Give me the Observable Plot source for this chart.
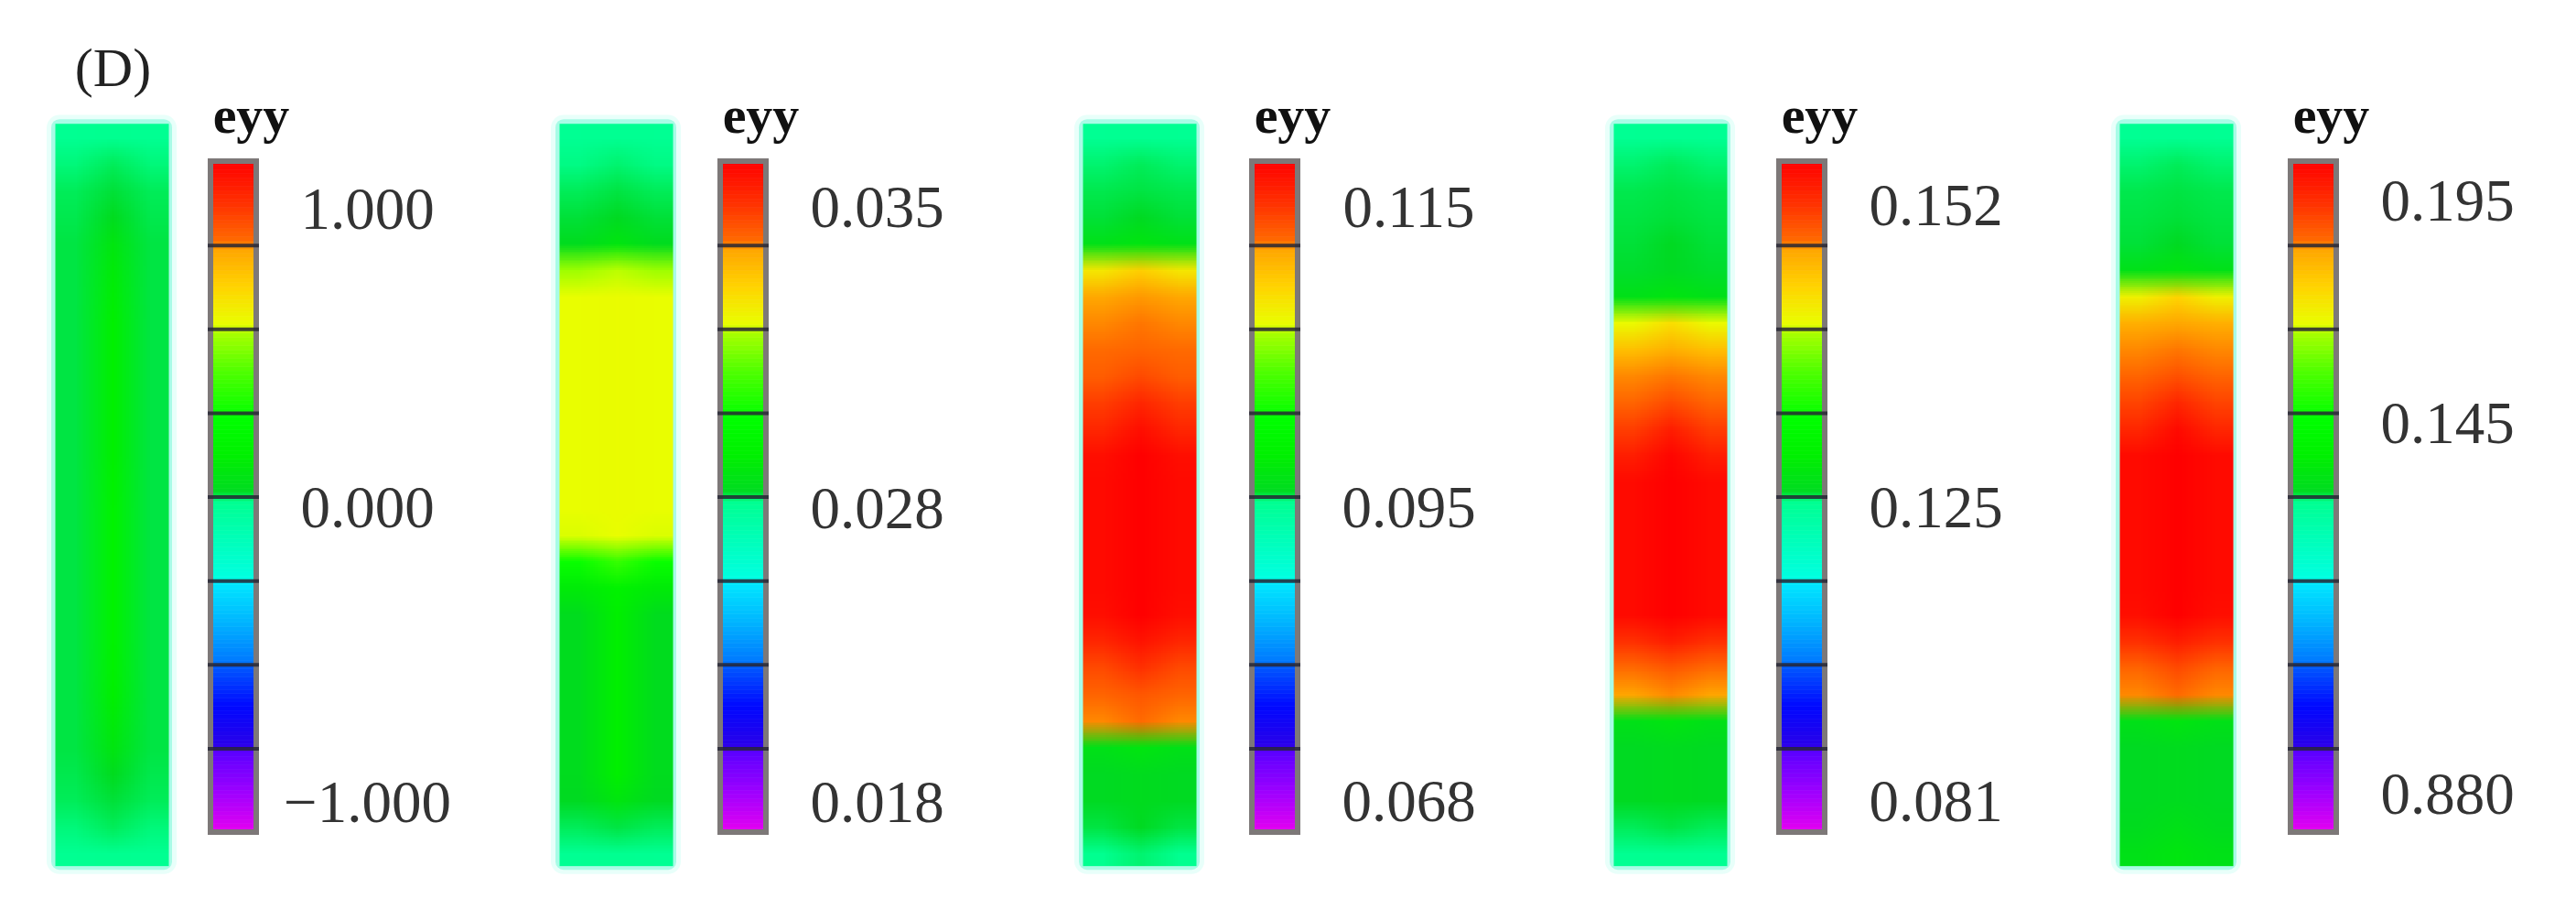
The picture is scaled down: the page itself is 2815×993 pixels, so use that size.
<!DOCTYPE html>
<html>
<head>
<meta charset="utf-8">
<script src="https://cdn.jsdelivr.net/npm/d3@7"></script>
<script src="https://cdn.jsdelivr.net/npm/@observablehq/plot@0.6"></script>
<style>
html, body { margin: 0; padding: 0; background: #fff; }
#chart svg { display: block; }
</style>
</head>
<body>
<div id="chart"></div>
<script>
// ---------- text ----------
const panelTitle = "(D)";
const legendTitle = "eyy";

// colorbar tick labels, top / middle / bottom, one list per panel
const labelsA = ["1.000", "0.000", "\u22121.000"];
const labelsB = ["0.035", "0.028", "0.018"];
const labelsC = ["0.115", "0.095", "0.068"];
const labelsD = ["0.152", "0.125", "0.081"];
const labelsE = ["0.195", "0.145", "0.880"];

// ---------- strain field, read as colour-bar level (0 = bottom, 8 = top), 28 rows top -> bottom ----------
const centerA = [3.95, 4.0, 4.03, 4.1, 4.3, 4.4, 4.45, 4.5, 4.5, 4.5, 4.5, 4.5, 4.5, 4.55, 4.6, 4.6, 4.6, 4.6, 4.6, 4.6, 4.55, 4.5, 4.4, 4.3, 4.1, 4.03, 4.0, 3.95];
const edgeA   = [3.93, 3.97, 4.0, 4.01, 4.02, 4.02, 4.02, 4.02, 4.02, 4.02, 4.02, 4.02, 4.02, 4.02, 4.02, 4.02, 4.02, 4.02, 4.02, 4.02, 4.02, 4.02, 4.02, 4.02, 4.01, 4.0, 3.97, 3.93];

const centerB = [3.93, 3.98, 4.02, 4.05, 4.3, 5.98, 6.08, 6.08, 6.08, 6.08, 6.08, 6.08, 6.08, 6.08, 6.08, 6.06, 5.3, 4.6, 4.5, 4.5, 4.5, 4.5, 4.5, 4.5, 4.5, 4.3, 4.02, 3.94];
const edgeB   = [3.92, 3.96, 4.0, 4.03, 4.1, 5.9, 6.06, 6.06, 6.06, 6.06, 6.06, 6.06, 6.06, 6.06, 6.06, 6.03, 5.0, 4.4, 4.1, 4.1, 4.1, 4.1, 4.1, 4.1, 4.1, 4.05, 4.0, 3.92];

const centerC = [3.93, 4.0, 4.02, 4.05, 4.3, 6.55, 6.97, 7.03, 7.1, 7.3, 7.6, 7.85, 8.0, 8.0, 8.0, 8.0, 8.0, 8.0, 8.0, 7.8, 7.5, 7.2, 7.05, 4.3, 4.1, 4.1, 4.05, 3.98];
const edgeC   = [3.92, 3.98, 4.01, 4.03, 4.2, 6.3, 6.93, 7.0, 7.05, 7.15, 7.4, 7.6, 7.85, 7.9, 7.9, 7.9, 7.9, 7.9, 7.85, 7.6, 7.3, 7.1, 7.0, 4.2, 4.05, 4.05, 4.02, 3.95];

const centerD = [3.93, 4.0, 4.02, 4.03, 4.05, 4.05, 4.3, 6.4, 6.85, 7.03, 7.3, 7.7, 7.95, 8.0, 8.0, 8.0, 8.0, 8.0, 8.0, 7.7, 7.2, 7.0, 4.3, 4.1, 4.1, 4.1, 4.02, 3.95];
const edgeD   = [3.92, 3.98, 4.01, 4.02, 4.03, 4.04, 4.2, 6.1, 6.7, 7.0, 7.1, 7.4, 7.7, 7.9, 7.9, 7.9, 7.9, 7.9, 7.9, 7.5, 7.05, 6.95, 4.2, 4.05, 4.05, 4.05, 4.0, 3.93];

const centerE = [3.93, 4.0, 4.02, 4.03, 4.05, 4.3, 6.5, 6.93, 7.03, 7.25, 7.6, 7.9, 8.0, 8.0, 8.0, 8.0, 8.0, 8.0, 8.0, 7.7, 7.3, 7.05, 4.3, 4.1, 4.1, 4.1, 4.2, 4.3];
const edgeE   = [3.92, 3.98, 4.01, 4.02, 4.03, 4.2, 6.2, 6.85, 7.0, 7.1, 7.35, 7.6, 7.9, 7.9, 7.9, 7.9, 7.9, 7.9, 7.85, 7.5, 7.1, 7.0, 4.2, 4.05, 4.05, 4.05, 4.1, 4.2];

// ---------- colour map of the legend (level -> colour) ----------
const levelStops = [0, 0.5, 0.97, 1.03, 1.5, 1.97, 2.03, 2.5, 2.97, 3.03, 3.5, 3.95, 4.05, 4.5, 4.95, 5.05, 5.5, 5.95, 6.05, 6.5, 6.95, 7.05, 7.5, 8];
const stopColors = ["#e600f0", "#9a00ff", "#5a00ff", "#2a00e8", "#0008ff", "#0058ff", "#0078ff", "#00b4ff", "#00e8ff", "#00ffe0", "#00ffb8", "#00ff90", "#00da22", "#00f000", "#00ff00", "#10ff00", "#50ff00", "#a8ff00", "#e8ff00", "#ffd400", "#ffa500", "#ff6a00", "#ff3000", "#ff0000"];

// ---------- layout (not data) ----------
const layout = {
  specimenLeft: [60, 611, 1183, 1763, 2316],
  specimenWidth: 124,
  specimenTop: 8.45,
  specimenBottom: -0.40,
  colorbarLeft: [227, 784, 1365, 1941, 2500],
  colorbarWidth: 56,
  labelOffset: 174,
  legendTitleOffset: 47,
  tickLevels: [[7.43, 3.87, 0.35], [7.45, 3.86, 0.35], [7.45, 3.87, 0.36], [7.47, 3.87, 0.36], [7.52, 4.87, 0.45]],
  titleX: 123,
  titleLevel: 9.11,
  legendTitleLevel: 8.34
};

const centers = [centerA, centerB, centerC, centerD, centerE];
const edges = [edgeA, edgeB, edgeC, edgeD, edgeE];
const labels = [labelsA, labelsB, labelsC, labelsD, labelsE];
const panels = [0, 1, 2, 3, 4];

const L = layout;
const fontFamily = "'Liberation Serif', 'Times New Roman', Times, serif";

// raster grids: columns edge | center | edge
const grids = panels.map(p => centers[p].flatMap((c, i) => [edges[p][i], c, edges[p][i]]));

// colorbar ramp slices (legend of the colour scale)
const step = 0.05;
const slices = [];
for (const p of panels) {
  for (let k = 0; k < 8 / step; k++) {
    slices.push({p, y1: k * step, y2: (k + 1) * step, level: (k + 0.5) * step});
  }
}
const separators = panels.flatMap(p => [1, 2, 3, 4, 5, 6, 7].map(level => ({p, level})));
const tickData = panels.flatMap(p => labels[p].map((label, j) => ({p, label, level: L.tickLevels[p][j]})));

const rasterMarks = panels.map(p => Plot.raster(grids[p], {
  width: 3,
  height: centers[p].length,
  x1: L.specimenLeft[p],
  x2: L.specimenLeft[p] + L.specimenWidth,
  y1: L.specimenTop,
  y2: L.specimenBottom,
  fill: d => d
}));

const chart = Plot.plot({
  width: 2815,
  height: 993,
  margin: 0,
  style: {background: "white", fontFamily},
  x: {domain: [0, 2815], range: [0, 2815], axis: null},
  y: {domain: [0, 8], range: [909, 176], axis: null},
  color: {type: "linear", domain: levelStops, range: stopColors, interpolate: "rgb"},
  marks: [
    // soft cyan halo around each specimen
    Plot.rect(panels, {
      x1: p => L.specimenLeft[p] - 9, x2: p => L.specimenLeft[p] + L.specimenWidth + 9,
      y1: () => L.specimenTop + 0.1, y2: () => L.specimenBottom - 0.1,
      fill: "#e8fffa", rx: 14
    }),
    Plot.rect(panels, {
      x1: p => L.specimenLeft[p] - 4, x2: p => L.specimenLeft[p] + L.specimenWidth + 4,
      y1: () => L.specimenTop + 0.05, y2: () => L.specimenBottom - 0.05,
      fill: "#a8fbe6", rx: 9
    }),
    ...rasterMarks,
    // colour bar ramp
    Plot.rect(slices, {
      x1: d => L.colorbarLeft[d.p] + 3, x2: d => L.colorbarLeft[d.p] + L.colorbarWidth - 3,
      y1: "y1", y2: "y2", fill: "level", stroke: "level", strokeWidth: 0.6
    }),
    // colour bar frame
    Plot.rect(panels, {
      x1: p => L.colorbarLeft[p] + 3, x2: p => L.colorbarLeft[p] + L.colorbarWidth - 3,
      y1: () => 0, y2: () => 8,
      fill: "none", stroke: "#7d7878", strokeWidth: 6
    }),
    // segment separators
    Plot.ruleY(separators, {
      y: "level",
      x1: d => L.colorbarLeft[d.p], x2: d => L.colorbarLeft[d.p] + L.colorbarWidth,
      stroke: "#262634", strokeWidth: 4, strokeOpacity: 0.85
    }),
    // tick labels
    Plot.text(tickData, {
      x: d => L.colorbarLeft[d.p] + L.labelOffset, y: "level", text: "label",
      fontSize: 65, fontFamily, fill: "#333", textAnchor: "middle"
    }),
    // legend titles
    Plot.text(panels, {
      x: p => L.colorbarLeft[p] + L.legendTitleOffset, y: () => L.legendTitleLevel,
      text: () => legendTitle, fontSize: 58, fontWeight: "bold", fontFamily,
      fill: "#111", lineAnchor: "bottom", textAnchor: "middle"
    }),
    // panel title
    Plot.text([panelTitle], {
      x: () => L.titleX, y: () => L.titleLevel, text: d => d,
      fontSize: 60, fontFamily, fill: "#222", textAnchor: "middle"
    })
  ]
});

document.getElementById("chart").appendChild(chart);
</script>
</body>
</html>
